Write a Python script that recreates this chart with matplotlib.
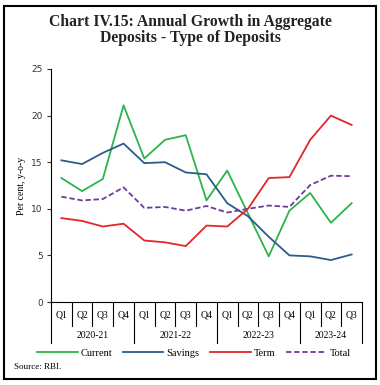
import matplotlib
matplotlib.use("Agg")
import matplotlib.pyplot as plt
from matplotlib.patches import Rectangle

quarters = ["Q1", "Q2", "Q3", "Q4"] * 3 + ["Q1", "Q2", "Q3"]
years = ["2020-21", "2021-22", "2022-23", "2023-24"]
year_len = [4, 4, 4, 3]

current = [13.3, 11.9, 13.2, 21.1, 15.4, 17.4, 17.9, 10.9, 14.1, 9.5, 4.9, 9.8, 11.7, 8.5, 10.6]
savings = [15.2, 14.8, 16.0, 17.0, 14.9, 15.0, 13.9, 13.7, 10.6, 9.2, 7.0, 5.0, 4.9, 4.5, 5.1]
term = [9.0, 8.7, 8.1, 8.4, 6.6, 6.4, 6.0, 8.2, 8.1, 10.0, 13.3, 13.4, 17.4, 20.0, 19.0]
total = [11.3, 10.9, 11.05, 12.3, 10.1, 10.2, 9.8, 10.3, 9.6, 10.0, 10.35, 10.2, 12.55, 13.55, 13.5]

SERIF = "Liberation Serif"
SANS = "DejaVu Sans"

fig = plt.figure(figsize=(3.8, 3.85), dpi=100)
ax = fig.add_axes([51 / 380, 1 - 302 / 385, 311 / 380, 233 / 385])

x = range(len(quarters))
ax.plot(x, current, color="#2DB34A", lw=1.3, label="Current")
ax.plot(x, savings, color="#2B5C8A", lw=1.3, label="Savings")
ax.plot(x, term, color="#E2262B", lw=1.3, label="Term")
ax.plot(x, total, color="#6A3D9A", lw=1.3, ls=(0, (3, 1.5)), label="Total")

ax.set_xlim(-0.5, len(quarters) - 0.5)
ax.set_ylim(0, 25)
ax.set_yticks([0, 5, 10, 15, 20, 25])
ax.tick_params(axis="y", labelsize=6.5, length=3, width=0.8, pad=3, colors="#333333")
for lbl in ax.get_yticklabels():
    lbl.set_family(SANS)
ax.set_xticks([])
for s in ["top", "right"]:
    ax.spines[s].set_visible(False)
for s in ["left", "bottom"]:
    ax.spines[s].set_linewidth(0.8)
ax.set_ylabel("Per cent, y-o-y", family=SERIF, fontsize=7, labelpad=4)

# category boxes under the axis
tr = ax.get_xaxis_transform()
short, long_ = -24 / 233, -41 / 233
bounds = [-0.5]
for n in year_len:
    bounds.append(bounds[-1] + n)
for i in range(len(quarters) + 1):
    xb = i - 0.5
    y1 = long_ if xb in bounds else short
    ax.plot([xb, xb], [0, y1], transform=tr, color="black", lw=0.8, clip_on=False)
for i, q in enumerate(quarters):
    ax.text(i, -13 / 233, q, transform=tr, ha="center", va="center",
            family=SERIF, fontsize=7)
for k, yr in enumerate(years):
    xc = (bounds[k] + bounds[k + 1]) / 2
    ax.text(xc, -33 / 233, yr, transform=tr, ha="center", va="center",
            family=SERIF, fontsize=7)

fig.legend(loc="center", bbox_to_anchor=(0.51, 1 - 353 / 385), ncol=4, frameon=False,
           handlelength=3.9, handletextpad=0.3, columnspacing=1.0,
           prop={"family": SERIF, "size": 7.5})

fig.text(0.5, 1 - 30 / 385, "Chart IV.15: Annual Growth in Aggregate\nDeposits - Type of Deposits",
         ha="center", va="center", family=SERIF, fontsize=11.3, weight="bold",
         linespacing=1.05, color="#222222")
fig.text(14 / 380, 1 - 367 / 385, "Source: RBI.", ha="left", va="center",
         family=SERIF, fontsize=6.5)

fig.patches.append(Rectangle((4 / 380, 6 / 385), 372 / 380, 373 / 385, transform=fig.transFigure,
                             fill=False, edgecolor="black", lw=1.5))

fig.savefig("out.png", dpi=100)
